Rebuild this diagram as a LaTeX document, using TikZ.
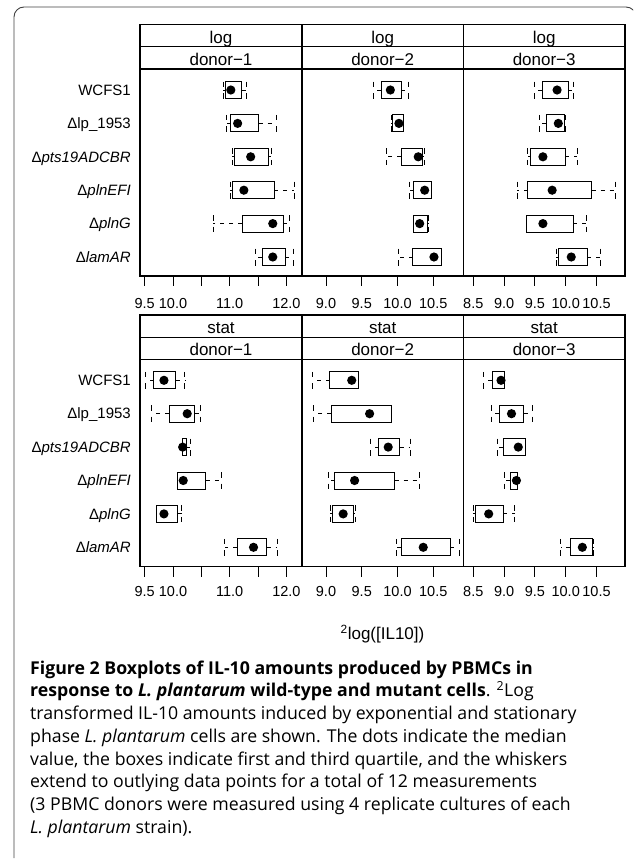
\documentclass[tikz,border=0pt]{standalone}
\usepackage{fontspec}
\setmainfont{Liberation Sans}
\newfontfamily\capfont{Open Sans}

\newcommand\boxrow[6]{%
\draw[wsk] (#2,#6) -- (#1,#6);
\draw[wsk] (#4,#6) -- (#5,#6);
\draw[stp] (#1,#6-8.5) -- (#1,#6+8.5);
\draw[stp] (#5,#6-8.5) -- (#5,#6+8.5);
\draw[bx] (#2,#6-8.5) rectangle (#4,#6+8.5);
\fill (#3,#6) circle[radius=4.6pt];}

\begin{document}
\begin{tikzpicture}[x=1pt, y=-1pt,
  wsk/.style={line width=0.9pt, dash pattern=on 4pt off 5pt},
  stp/.style={line width=0.9pt, dash pattern=on 5.5pt off 6pt},
  bx/.style={draw, line width=0.9pt},
  pnl/.style={draw, line width=1.1pt},
  strip/.style={font=\fontsize{17}{20}\selectfont, anchor=base, inner sep=0pt},
  ylab/.style={font=\fontsize{15}{18}\selectfont, anchor=base east, inner sep=0pt},
  tlab/.style={font=\fontsize{14.5}{17}\selectfont, inner sep=0pt},
  capline/.style={font=\capfont\fontsize{17.7}{20}\selectfont, anchor=base west, inner sep=0pt}]
\useasboundingbox (0,0) rectangle (633,862);
\clip (0,0) rectangle (633,862);
\draw[line width=0.9pt, black!75, rounded corners=10pt] (14,858) -- (14,7) -- (636,7) -- (636,858);
\foreach \yt/\ym/\ys/\yb in {24.3/46.7/69/276, 315/337.3/359.3/566.7} {
  \draw[pnl] (140,\yt) rectangle (625,\yb);
  \draw[pnl] (140,\ym) -- (625,\ym) (140,\ys) -- (625,\ys);
  \draw[pnl] (302,\yt) -- (302,\yb) (463.5,\yt) -- (463.5,\yb);
}
\foreach \k/\xc in {1/221, 2/382.7, 3/544.2} {
  \node[strip] (lg\k) at (\xc,43.3) {log};
  \node[strip] (dl\k) at (\xc,65) {donor−\k};
  \node[strip] (st\k) at (\xc,333.6) {stat};
  \node[strip] (ds\k) at (\xc,355.6) {donor−\k};
}
\foreach \lab [count=\r] in {WCFS1, Δlp\_1953, Δ\textit{pts19ADCBR}, Δ\textit{plnEFI}, Δ\textit{plnG}, Δ\textit{lamAR}} {
  \node[ylab] (ya\r) at (131,56.6+\r*33.4+5.2) {\lab};
  \node[ylab] (yb\r) at (131,346.9+\r*33.4+5.2) {\lab};
}
\node[font=\fontsize{17}{20}\selectfont] (xt) at (382.5,634) {\textsuperscript{2}log([IL10])};

% donor-1
\begin{scope}[x=56.67pt, xshift=-393.67pt]
\foreach \t in {9.5,10,...,12} \draw[line width=1pt] (\t,276) -- (\t,286) (\t,566.7) -- (\t,576.7);
\foreach \t/\s [count=\i] in {9.5/9.5, 10/10.0, 11/11.0, 12/12.0} {
  \node[tlab] (ta1\i) at (\t,303.3) {\s};
  \node[tlab] (tb1\i) at (\t,591.7) {\s};
}
\foreach \a/\b/\c/\d/\e [count=\r] in {10.89/10.92/11.02/11.21/11.30, 10.94/11.02/11.14/11.51/11.82,
  11.04/11.08/11.37/11.69/11.73, 11.01/11.04/11.25/11.79/12.14, 10.71/11.22/11.76/11.94/12.06,
  11.46/11.57/11.76/11.98/12.12}
  \boxrow{\a}{\b}{\c}{\d}{\e}{56.6+\r*33.4};
\foreach \a/\b/\c/\d/\e [count=\r] in {9.51/9.66/9.84/10.05/10.21, 9.62/9.93/10.25/10.38/10.49,
  10.16/10.16/10.17/10.24/10.30, 10.08/10.08/10.18/10.58/10.86, 9.70/9.70/9.84/10.08/10.15,
  10.91/11.13/11.42/11.65/11.84}
  \boxrow{\a}{\b}{\c}{\d}{\e}{346.9+\r*33.4};
\end{scope}

% donor-2
\begin{scope}[x=71.5pt, xshift=-317.5pt]
\foreach \t in {9,9.5,...,10.5} \draw[line width=1pt] (\t,276) -- (\t,286) (\t,566.7) -- (\t,576.7);
\foreach \t/\s [count=\i] in {9/9.0, 9.5/9.5, 10/10.0, 10.5/10.5} {
  \node[tlab] (ta2\i) at (\t,303.3) {\s};
  \node[tlab] (tb2\i) at (\t,591.7) {\s};
}
\foreach \a/\b/\c/\d/\e [count=\r] in {9.67/9.77/9.90/10.05/10.16, 9.91/9.93/10.02/10.09/10.09,
  9.84/10.05/10.29/10.35/10.37, 10.17/10.23/10.38/10.48/10.48, 10.22/10.23/10.31/10.42/10.43,
  10.02/10.21/10.51/10.61/10.61}
  \boxrow{\a}{\b}{\c}{\d}{\e}{56.6+\r*33.4};
\foreach \a/\b/\c/\d/\e [count=\r] in {8.81/9.05/9.36/9.45/9.45, 8.83/9.07/9.61/9.91/9.91,
  9.62/9.74/9.87/10.03/10.18, 9.03/9.12/9.40/9.96/10.31, 9.06/9.09/9.24/9.38/9.41,
  9.98/10.05/10.36/10.74/10.86}
  \boxrow{\a}{\b}{\c}{\d}{\e}{346.9+\r*33.4};
\end{scope}

% donor-3
\begin{scope}[x=61.6pt, xshift=-50.3pt]
\foreach \t in {8.5,9,...,10.5} \draw[line width=1pt] (\t,276) -- (\t,286) (\t,566.7) -- (\t,576.7);
\foreach \t/\s [count=\i] in {8.5/8.5, 9/9.0, 9.5/9.5, 10/10.0, 10.5/10.5} {
  \node[tlab] (ta3\i) at (\t,303.3) {\s};
  \node[tlab] (tb3\i) at (\t,591.7) {\s};
}
\foreach \a/\b/\c/\d/\e [count=\r] in {9.50/9.62/9.86/10.04/10.13, 9.57/9.68/9.88/9.98/9.99,
  9.38/9.43/9.63/9.99/10.19, 9.21/9.38/9.78/10.42/10.80, 9.36/9.36/9.63/10.12/10.33,
  9.85/9.89/10.09/10.35/10.57}
  \boxrow{\a}{\b}{\c}{\d}{\e}{56.6+\r*33.4};
\foreach \a/\b/\c/\d/\e [count=\r] in {8.67/8.81/8.95/9.01/9.01, 8.79/8.92/9.12/9.32/9.46,
  8.89/8.99/9.23/9.34/9.34, 9.01/9.10/9.20/9.21/9.21, 8.50/8.53/8.75/8.99/9.17,
  9.92/10.07/10.27/10.44/10.45}
  \boxrow{\a}{\b}{\c}{\d}{\e}{346.9+\r*33.4};
\end{scope}

% caption
\foreach \ln [count=\i] in {
  {\bfseries Figure 2 Boxplots of IL-10 amounts produced by PBMCs in},
  {\textbf{response to \textit{L. plantarum} wild-type and mutant cells}. \textsuperscript{2}Log},
  {transformed IL-10 amounts induced by exponential and stationary},
  {phase \textit{L. plantarum} cells are shown. The dots indicate the median},
  {value, the boxes indicate first and third quartile, and the whiskers},
  {extend to outlying data points for a total of 12 measurements},
  {(3 PBMC donors were measured using 4 replicate cultures of each},
  {\textit{L. plantarum} strain).}}
  \node[capline] (cap\i) at (30,651.24+\i*22.76) {\ln};
\end{tikzpicture}
\end{document}
